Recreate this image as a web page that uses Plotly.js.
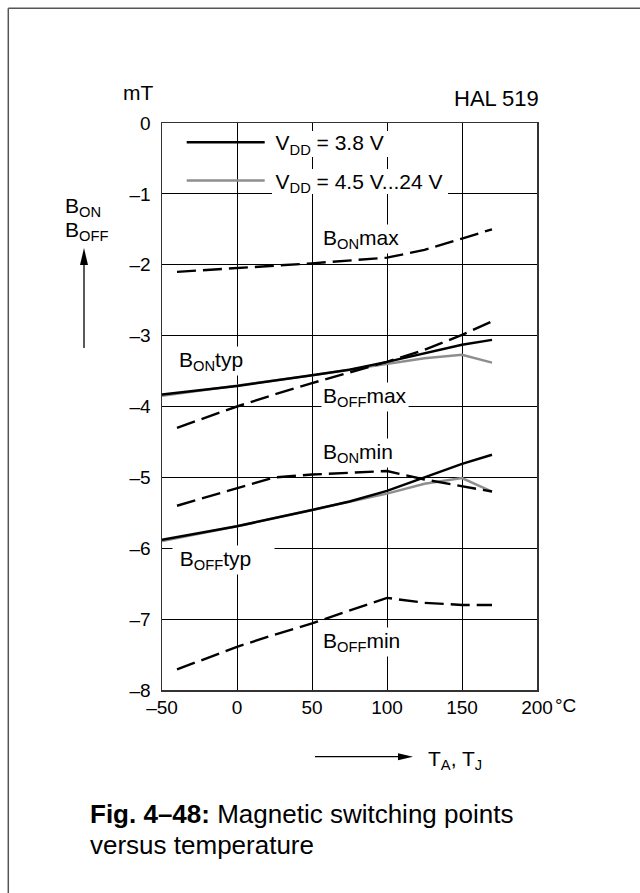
<!DOCTYPE html>
<html><head><meta charset="utf-8">
<script src="https://cdn.plot.ly/plotly-3.0.1.min.js"></script>
<style>html,body{margin:0;padding:0;background:#fff;}#chart{width:640px;height:893px;}</style>
</head><body><div id="chart"></div>
<script>
// ---- data ----
const tTyp = [-50, -25, 0, 50, 75, 100, 125, 150, 170];
const bonTyp38 = [-3.83, -3.77, -3.71, -3.56, -3.48, -3.37, -3.25, -3.13, -3.06];
const bonTyp45 = [-3.85, -3.78, -3.71, -3.56, -3.48, -3.40, -3.32, -3.27, -3.38];
const boffTyp38 = [-5.88, -5.79, -5.69, -5.46, -5.34, -5.19, -5.00, -4.81, -4.68];
const boffTyp45 = [-5.90, -5.80, -5.69, -5.46, -5.34, -5.23, -5.09, -5.01, -5.20];

const tLim = [-40, 0, 25, 50, 100, 125, 150, 170];
const bonMax = [-2.10, -2.045, -2.01, -1.98, -1.90, -1.79, -1.63, -1.50];
const boffMax = [-4.30, -4.00, -3.83, -3.67, -3.37, -3.20, -2.99, -2.80];
const bonMin = [-5.40, -5.16, -5.00, -4.96, -4.91, -5.03, -5.13, -5.20];
const boffMin = [-7.71, -7.39, -7.22, -7.06, -6.70, -6.77, -6.80, -6.80];

const xTickVals = [-50, 0, 50, 100, 150, 200];
const xTickText = ['\u201350', '0', '50', '100', '150', '200'];
const yTickVals = [0, -1, -2, -3, -4, -5, -6, -7, -8];
const yTickText = ['0', '\u20131', '\u20132', '\u20133', '\u20134', '\u20135', '\u20136', '\u20137', '\u20138'];

const legendNames = ['\u00a0V<sub>DD</sub> = 3.8 V', '\u00a0V<sub>DD</sub> = 4.5 V...24 V'];
const curveLabels = [
  {t: 'B<sub>ON</sub>max', x: 55.7, y: -1.64},
  {t: 'B<sub>ON</sub>typ', x: -39.7, y: -3.36},
  {t: 'B<sub>OFF</sub>max', x: 55.7, y: -3.86},
  {t: 'B<sub>ON</sub>min', x: 55.7, y: -4.65},
  {t: 'B<sub>OFF</sub>min', x: 55.7, y: -7.32}
];

// ---- geometry ----
const W = 640, H = 893;
const L = 162, R = 103, T = 123, B = 203;
const PW = W - L - R, PH = H - T - B;
const px = v => (v - L) / PW;
const py = v => (T + PH - v) / PH;

const FONT = 'Liberation Sans, Arial, Helvetica, sans-serif';
const BLACK = '#000000', GRAY = '#8e8e8e';
const DASH = '19px,7px';

const traces = [
  {x: tTyp, y: bonTyp45, mode: 'lines', name: legendNames[1], legendgroup: 'g2', legendrank: 2,
   line: {color: GRAY, width: 2.4}},
  {x: tTyp, y: boffTyp45, mode: 'lines', name: legendNames[1], legendgroup: 'g2', showlegend: false,
   line: {color: GRAY, width: 2.4}},
  {x: tTyp, y: bonTyp38, mode: 'lines', name: legendNames[0], legendgroup: 'g1', legendrank: 1,
   line: {color: BLACK, width: 2.5}},
  {x: tTyp, y: boffTyp38, mode: 'lines', name: legendNames[0], legendgroup: 'g1', showlegend: false,
   line: {color: BLACK, width: 2.5}},
  {x: tLim, y: bonMax, mode: 'lines', showlegend: false, line: {color: BLACK, width: 2.4, dash: DASH}},
  {x: tLim, y: boffMax, mode: 'lines', showlegend: false, line: {color: BLACK, width: 2.4, dash: DASH}},
  {x: tLim, y: bonMin, mode: 'lines', showlegend: false, line: {color: BLACK, width: 2.4, dash: DASH}},
  {x: tLim, y: boffMin, mode: 'lines', showlegend: false, line: {color: BLACK, width: 2.4, dash: DASH}}
];

const annotations = [];
function ann(o) {
  annotations.push(Object.assign({xref: 'paper', yref: 'paper', showarrow: false,
    font: {family: FONT, size: 21, color: '#000'}}, o));
}
ann({text: 'mT', x: px(137.5), y: py(92.5), xanchor: 'center', yanchor: 'middle'});
ann({text: 'HAL 519', x: px(541), y: py(98.5), xanchor: 'right', yanchor: 'middle', font: {family: FONT, size: 22, color: '#000'}});
ann({text: 'B<sub>ON</sub>', x: px(63), y: py(206.5), xanchor: 'left', yanchor: 'middle'});
ann({text: 'B<sub>OFF</sub>', x: px(63), y: py(231.5), xanchor: 'left', yanchor: 'middle'});
ann({text: '\u00b0C', x: px(553), y: py(705.5), xanchor: 'left', yanchor: 'middle', font: {family: FONT, size: 19, color: '#000'}});
ann({text: 'T<sub>A</sub>, T<sub>J</sub>', x: px(426), y: py(759.5), xanchor: 'left', yanchor: 'middle'});
ann({text: '<b>Fig. 4\u201348:</b> Magnetic switching points', x: px(88), y: py(814), xanchor: 'left', yanchor: 'middle', font: {family: FONT, size: 26, color: '#000'}});
ann({text: 'versus temperature', x: px(88), y: py(845), xanchor: 'left', yanchor: 'middle', font: {family: FONT, size: 26, color: '#000'}});

curveLabels.forEach(c => annotations.push({
  text: c.t, x: c.x, y: c.y, xref: 'x', yref: 'y', xanchor: 'left', yanchor: 'middle',
  showarrow: false, bgcolor: '#ffffff', borderpad: 1,
  font: {family: FONT, size: 21, color: '#000'}
}));
// B_OFF typ label: white box interrupts the -6 grid line
annotations.push({
  text: '\u00a0B<sub>OFF</sub>typ', x: (171.7 - L) / 1.5 - 50, y: -6.16, xref: 'x', yref: 'y',
  xanchor: 'left', yanchor: 'middle', align: 'left', width: 99, borderpad: 1,
  showarrow: false, bgcolor: '#ffffff', font: {family: FONT, size: 21, color: '#000'}
});

function line(x0, y0, x1, y1, w, c) {
  return {type: 'line', xref: 'paper', yref: 'paper', x0: px(x0), y0: py(y0), x1: px(x1), y1: py(y1),
          line: {color: c || '#000', width: w || 1}, layer: 'above'};
}
function tri(pts) {
  const d = 'M' + pts.map(p => px(p[0]) + ',' + py(p[1])).join('L') + 'Z';
  return {type: 'path', xref: 'paper', yref: 'paper', path: d, fillcolor: '#000', line: {width: 0}, layer: 'above'};
}
function rect(x0, y0, x1, y1) {
  return {type: 'rect', xref: 'paper', yref: 'paper', x0: px(x0), y0: py(y0), x1: px(x1), y1: py(y1),
          fillcolor: '#ffffff', line: {width: 0}, layer: 'above'};
}
const shapes = [
  // outer frame
  line(8.3, 8.3, 640, 8.3, 1.5, '#555'),
  line(8.3, 8.3, 8.3, 893, 1.5, '#555'),
  // white areas behind legend texts (grid lines broken there)
  rect(272, 131, 391, 157),
  rect(272, 169, 448, 194),
  // vertical arrow
  line(84, 262, 84, 348, 1.3),
  tri([[84, 248], [80, 265], [88, 265]]),
  // horizontal arrow
  line(315, 756.7, 400, 756.7, 1.3),
  tri([[413, 756.7], [398, 753.2], [398, 760.2]])
];

const axisCommon = {
  showgrid: true, gridcolor: '#000', gridwidth: 1, zeroline: false,
  showline: true, linecolor: '#333', linewidth: 1.5, mirror: true,
  ticks: '', tickmode: 'array', fixedrange: true,
  tickfont: {family: FONT, size: 19, color: '#000'}
};

const layout = {
  width: W, height: H,
  margin: {l: L, r: R, t: T, b: B, pad: 0},
  paper_bgcolor: '#fff', plot_bgcolor: '#fff',
  showlegend: true,
  legend: {x: px(181.7), y: py(122), xanchor: 'left', yanchor: 'top', bgcolor: 'rgba(0,0,0,0)',
           borderwidth: 0, itemwidth: 78, tracegroupgap: 8, traceorder: 'grouped',
           font: {family: FONT, size: 21, color: '#000'}},
  xaxis: Object.assign({}, axisCommon, {range: [-50, 200], tickvals: xTickVals, ticktext: xTickText}),
  yaxis: Object.assign({}, axisCommon, {range: [-8, 0], tickvals: yTickVals, ticktext: yTickText, ticklabelstandoff: 6}),
  annotations: annotations,
  shapes: shapes
};

Plotly.newPlot('chart', traces, layout, {staticPlot: true, displayModeBar: false});
</script>
</body></html>
